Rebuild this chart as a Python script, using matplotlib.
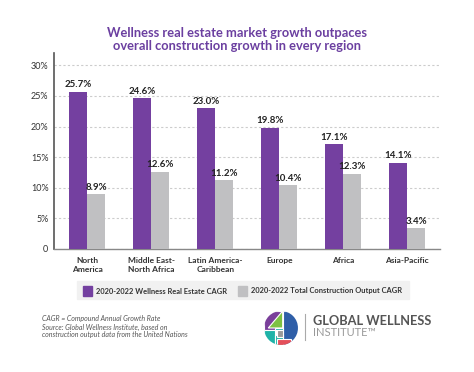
import matplotlib
matplotlib.use("Agg")
import matplotlib.pyplot as plt
import numpy as np
from matplotlib.patches import Rectangle, Circle, Polygon

plt.rcParams['font.family'] = ['Lato', 'DejaVu Sans']

regions = ['North\nAmerica', 'Middle East-\nNorth Africa', 'Latin America-\nCaribbean',
           'Europe', 'Africa', 'Asia-Pacific']
wellness_cagr = [25.7, 24.6, 23.0, 19.8, 17.1, 14.1]
construction_cagr = [8.9, 12.6, 11.2, 10.4, 12.3, 3.4]
yticks = [0, 5, 10, 15, 20, 25, 30]
ytick_labels = ['0', '5%', '10%', '15%', '20%', '25%', '30%']

purple = '#7440a0'
grey = '#c0c0c2'
title_col = '#6b3fa0'

fig = plt.figure(figsize=(4.74, 3.72), dpi=100)
ax = fig.add_axes([54/474, 1 - 249/372, 386/474, (249 - 53)/372])

x = np.arange(len(regions))
w = 0.28
ax.bar(x - w/2, wellness_cagr, w, color=purple, zorder=3)
ax.bar(x + w/2, construction_cagr, w, color=grey, zorder=3)

for i in range(len(regions)):
    ax.text(x[i] - w/2, wellness_cagr[i] + 0.4, f'{wellness_cagr[i]:.1f}%',
            ha='center', va='bottom', fontsize=7, fontweight='bold', color='#222222')
    ax.text(x[i] + w/2, construction_cagr[i] + 0.4, f'{construction_cagr[i]:.1f}%',
            ha='center', va='bottom', fontsize=7, fontweight='bold', color='#222222')

ax.set_xlim(-0.52, 5.51)
ax.set_ylim(0, 32)
ax.set_yticks(yticks)
ax.set_yticklabels(ytick_labels, fontsize=6.5, color='#333333')
ax.set_xticks(x)
ax.set_xticklabels(regions, fontsize=6, fontweight='bold', color='#333333', linespacing=1.3)
ax.tick_params(axis='both', length=0, pad=4)
ax.tick_params(axis='x', pad=6)
ax.yaxis.grid(True, linestyle=(0, (2, 2)), color='#cccccc', linewidth=0.8, zorder=0)
for s in ['top', 'right']:
    ax.spines[s].set_visible(False)
ax.spines['left'].set_color('#555555')
ax.spines['left'].set_linewidth(1.2)
ax.spines['bottom'].set_color('#888888')
ax.spines['bottom'].set_linewidth(1.0)

fig.text(237/474, 1 - 33/372, 'Wellness real estate market growth outpaces',
         ha='center', va='center', fontsize=9.3, fontweight='bold', color=title_col)
fig.text(237/474, 1 - 46/372, 'overall construction growth in every region',
         ha='center', va='center', fontsize=9.3, fontweight='bold', color=title_col)

# legend box
fig.patches.append(Rectangle((77/474, 1 - 299/372), 332/474, 18/372,
                             transform=fig.transFigure, color='#f1f1f1', zorder=0))
fig.patches.append(Rectangle((83/474, 1 - 296/372), 9/474, 10/372,
                             transform=fig.transFigure, color=purple))
fig.text(96/474, 1 - 291/372, '2020-2022 Wellness Real Estate CAGR',
         ha='left', va='center', fontsize=5.4, fontweight='bold', color='#333333')
fig.patches.append(Rectangle((238/474, 1 - 296/372), 9/474, 10/372,
                             transform=fig.transFigure, color=grey))
fig.text(251/474, 1 - 291/372, '2020-2022 Total Construction Output CAGR',
         ha='left', va='center', fontsize=5.4, fontweight='bold', color='#333333')

# footnote
notes = ['CAGR = Compound Annual Growth Rate',
         'Source: Global Wellness Institute, based on',
         'construction output data from the United Nations']
for k, t in enumerate(notes):
    fig.text(42/474, 1 - (319 + 8*k)/372, t, ha='left', va='center',
             fontsize=5, style='italic', color='#555555')

# logo
lax = fig.add_axes([264/474, 1 - 345/372, 34/474, 34/372])
lax.set_xlim(-1, 1)
lax.set_ylim(-1, 1)
lax.set_aspect('equal')
lax.axis('off')
clip = Circle((0, 0), 1, transform=lax.transData)
pieces = [
    (Rectangle((-1, -0.1), 1, 1.1), '#7a3f9a'),
    (Polygon([(-0.75, 0.0), (0.1, 1.0), (0.1, 0.0)]), '#7dc142'),
    (Rectangle((0.1, -1), 0.9, 2), '#2f5fa8'),
    (Rectangle((-1, -1), 0.65, 0.9), '#1fb3a8'),
    (Rectangle((-0.35, -1), 0.45, 0.6), '#1fb3a8'),
    (Rectangle((-0.35, -0.1), 0.45, 0.1), '#1fb3a8'),
    (Rectangle((-0.25, -0.55), 0.35, 0.45), '#9a9a9a'),
    (Rectangle((-0.25, -1), 0.85, 0.35), '#e4505a'),
]
for p, c in pieces:
    p.set_facecolor(c)
    p.set_edgecolor('white')
    p.set_linewidth(0.8)
    lax.add_patch(p)
    p.set_clip_path(clip)
fig.add_artist(plt.Line2D([305/474, 305/474], [1 - 340/372, 1 - 314/372],
                          color='#aaaaaa', linewidth=0.8, transform=fig.transFigure))
fig.text(313/474, 1 - 321/372, 'GLOBAL WELLNESS', ha='left', va='center',
         fontsize=9.2, fontweight='bold', color='#555555')
fig.text(313/474, 1 - 333/372, 'INSTITUTE\u2122', ha='left', va='center',
         fontsize=8, color='#999999')

fig.savefig('out.png', dpi=100)
